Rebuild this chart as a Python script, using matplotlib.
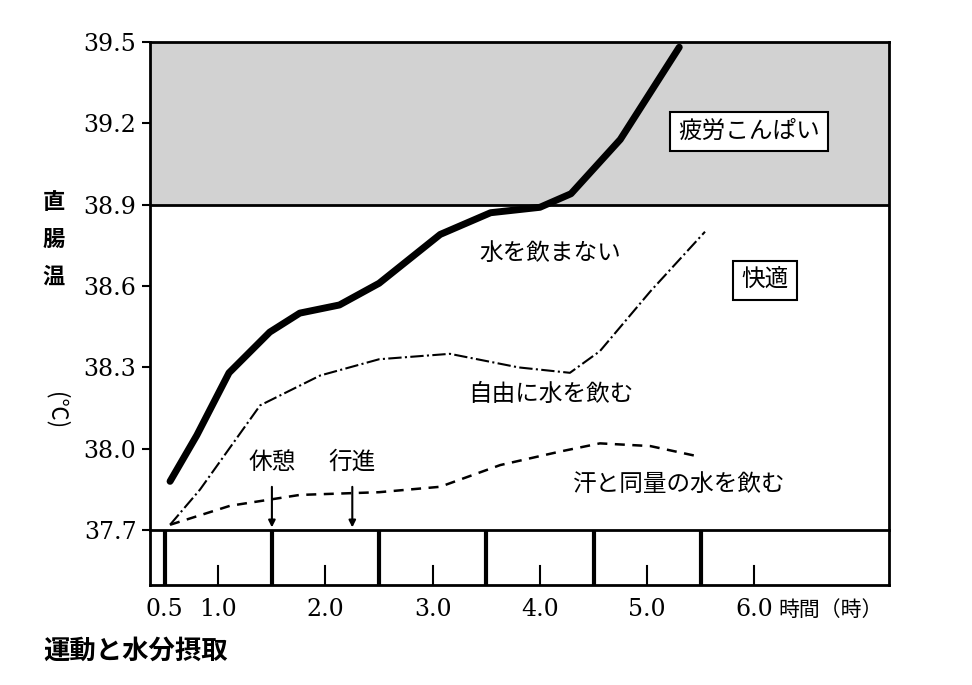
import matplotlib
matplotlib.use("Agg")
import matplotlib.pyplot as plt

plt.rcParams["font.family"] = ["DejaVu Serif", "Noto Sans CJK JP"]
jp = "Noto Sans CJK JP"

no_water_x = [0.55, 0.8, 1.1, 1.48, 1.76, 2.13, 2.5, 3.07, 3.54, 4.0, 4.29, 4.75, 5.3]
no_water_y = [37.88, 38.05, 38.28, 38.43, 38.5, 38.53, 38.61, 38.79, 38.87, 38.89, 38.94, 39.14, 39.48]
free_x = [0.55, 0.83, 1.39, 1.95, 2.5, 3.16, 3.8, 4.28, 4.56, 5.03, 5.54]
free_y = [37.72, 37.85, 38.16, 38.27, 38.33, 38.35, 38.3, 38.28, 38.36, 38.58, 38.8]
sweat_x = [0.55, 1.11, 1.76, 2.5, 3.07, 3.63, 4.19, 4.56, 5.03, 5.5]
sweat_y = [37.72, 37.79, 37.83, 37.84, 37.86, 37.94, 37.99, 38.02, 38.01, 37.97]
yticks = [37.7, 38.0, 38.3, 38.6, 38.9, 39.2, 39.5]
xticks = [0.5, 1.0, 2.0, 3.0, 4.0, 5.0, 6.0]
xlabels = ["0.5", "1.0", "2.0", "3.0", "4.0", "5.0", "6.0"]
segments = [0.5, 1.5, 2.5, 3.5, 4.5, 5.5]
XL = (0.36, 7.26)

fig = plt.figure(figsize=(9.72, 6.85), dpi=100)
ax = fig.add_axes([0.154, 0.226, 0.761, 0.713])
ax.set_xlim(*XL); ax.set_ylim(37.7, 39.5)
ax.axhspan(38.9, 39.5, color="#d2d2d2", zorder=0)
ax.axhline(38.9, color="black", lw=2)
ax.plot(no_water_x, no_water_y, color="black", lw=5, solid_capstyle="round", solid_joinstyle="round")
ax.plot(free_x, free_y, color="black", lw=1.5, ls="-.")
ax.plot(sweat_x, sweat_y, color="black", lw=1.8, ls=(0, (4, 3)))
for s in ax.spines.values():
    s.set_linewidth(2)
ax.spines["bottom"].set_visible(False)
ax.set_xticks([])
ax.set_yticks(yticks)
ax.set_yticklabels([f"{v:.1f}" for v in yticks], fontsize=17)
ax.tick_params(axis="y", length=6, width=1.5)

box = dict(boxstyle="square,pad=0.35", fc="white", ec="black", lw=1.5)
ax.text(5.95, 39.17, "疲労こんぱい", fontfamily=jp, fontsize=17, ha="center", va="center", bbox=box)
ax.text(6.1, 38.62, "快適", fontfamily=jp, fontsize=17, ha="center", va="center", bbox=box)
ax.text(4.1, 38.72, "水を飲まない", fontfamily=jp, fontsize=17, ha="center", va="center")
ax.text(4.1, 38.2, "自由に水を飲む", fontfamily=jp, fontsize=17, ha="center", va="center")
ax.text(5.3, 37.87, "汗と同量の水を飲む", fontfamily=jp, fontsize=17, ha="center", va="center")
for xp, lab in [(1.5, "休憩"), (2.25, "行進")]:
    ax.annotate("", xy=(xp, 37.7), xytext=(xp, 37.87),
                arrowprops=dict(arrowstyle="-|>", color="black", lw=1.5))
    ax.text(xp, 37.95, lab, fontfamily=jp, fontsize=17, ha="center", va="center")

bx = fig.add_axes([0.154, 0.146, 0.761, 0.08])
bx.set_xlim(*XL); bx.set_ylim(0, 1)
for s in bx.spines.values():
    s.set_linewidth(2)
bx.set_yticks([])
bx.set_xticks([])
for sgm in segments:
    bx.axvline(sgm, color="black", lw=3)
for t in xticks[1:]:
    bx.plot([t, t], [0, 0.35], color="black", lw=1.5)
for t, l in zip(xticks, xlabels):
    fig.text(0.154 + 0.761 * (t - XL[0]) / (XL[1] - XL[0]), 0.11, l, fontsize=17, ha="center", va="center")
fig.text(0.855, 0.11, "時間（時）", fontfamily=jp, fontsize=15, ha="center", va="center")
fig.text(0.045, 0.05, "運動と水分摂取", fontfamily=jp, fontsize=19, fontweight="bold", ha="left", va="center")
fig.text(0.055, 0.65, "直\n腸\n温", fontfamily=jp, fontsize=16, fontweight="bold",
         ha="center", va="center", linespacing=1.8)
fig.text(0.058, 0.40, "(℃)", fontfamily=jp, fontsize=16, rotation=-90,
         ha="center", va="center")
fig.savefig("out.png", dpi=100)
